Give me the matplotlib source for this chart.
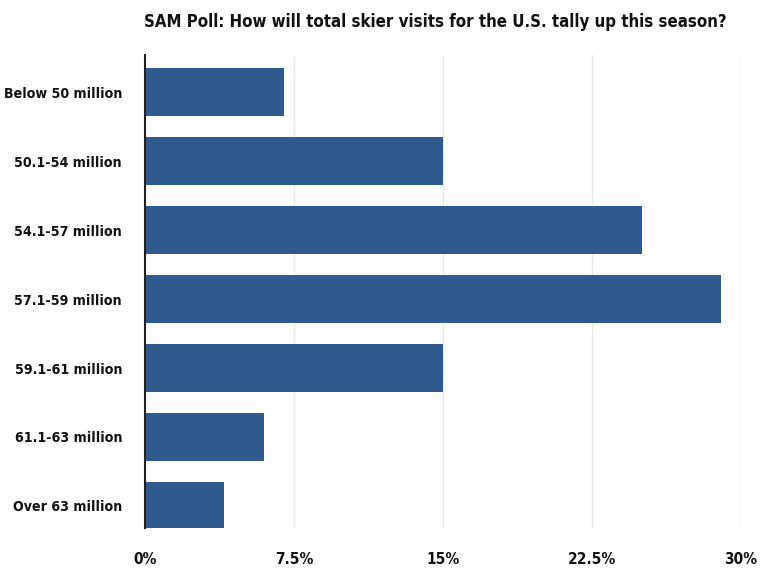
import matplotlib.pyplot as plt
import numpy as np

categories = ['Below 50 million', '50.1-54 million', '54.1-57 million', '57.1-59 million',
              '59.1-61 million', '61.1-63 million', 'Over 63 million']
values = [7, 15, 25, 29, 15, 6, 4]
ticks = [0, 7.5, 15, 22.5, 30]
tick_labels = ['0%', '7.5%', '15%', '22.5%', '30%']

plt.rcParams['font.family'] = ['Liberation Sans Narrow', 'DejaVu Sans']
plt.rcParams['font.stretch'] = 'condensed'

fig = plt.figure(figsize=(7.7, 5.88), dpi=100)
ax = fig.add_axes([145/770, 1 - 528/588, (741-145)/770, (528-55)/588])

y = np.arange(len(categories))
ax.barh(y, values, height=0.7, color='#2e5a8e', zorder=3)
ax.set_ylim(6.32, -0.54)
ax.set_xlim(0, 30)
ax.set_yticks(y)
ax.set_yticklabels(categories, fontsize=12, fontweight='bold', color='#111111')
ax.set_xticks(ticks)
ax.set_xticklabels(tick_labels, fontsize=12.5, fontweight='bold', color='#111111')
ax.tick_params(axis='y', length=0, pad=16.5)
ax.tick_params(axis='x', length=0, pad=17)
ax.grid(axis='x', color='#e8e8e8', linewidth=1, zorder=0)
for s in ['top', 'right', 'bottom']:
    ax.spines[s].set_visible(False)
ax.spines['left'].set_color('#222222')
ax.spines['left'].set_linewidth(1.5)
ax.spines['left'].set_zorder(4)

title = fig.text(435/770, 1 - 22/588,
                 'SAM Poll: How will total skier visits for the U.S. tally up this season?',
                 ha='center', va='center', fontsize=15, fontweight='bold', color='#111111')

# shrink the title to the width it has in the reference (~584 px)
# and the y labels to ~118 px for the longest one
r = fig.canvas.get_renderer()
w = title.get_window_extent(r).width
title.set_fontsize(15 * 584 / w)
lab = ax.get_yticklabels()[0]
w = lab.get_window_extent(r).width
size = 12 * 118 / w
for t in ax.get_yticklabels():
    t.set_fontsize(size)
lab = ax.get_xticklabels()[3]
w = lab.get_window_extent(r).width
for t in ax.get_xticklabels():
    t.set_fontsize(12.5 * 48 / w)

fig.savefig('out.png', dpi=100)
